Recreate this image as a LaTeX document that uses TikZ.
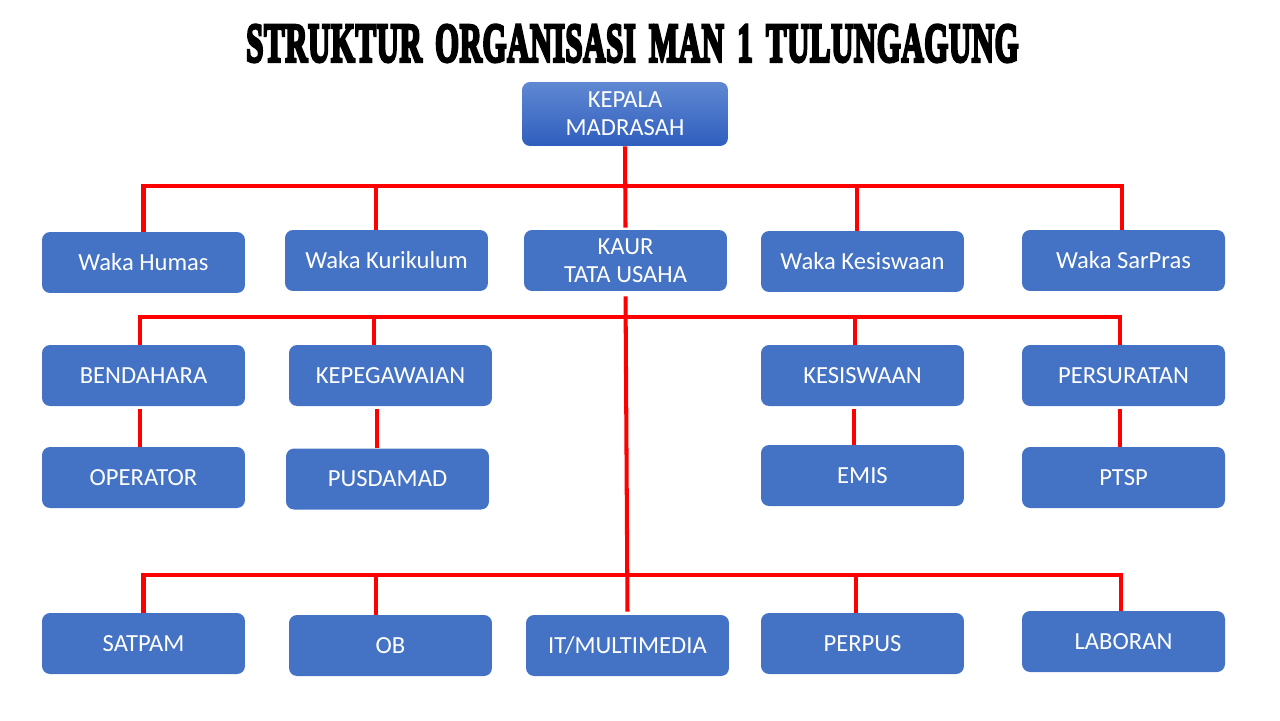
\documentclass[tikz,border=0pt]{standalone}
\usepackage{fontspec}
\setmainfont{Carlito}
\newfontfamily\titlefont[LetterSpace=2, WordSpace=1.6]{Liberation Serif}
\definecolor{boxblue}{HTML}{4472C4}
\definecolor{headtop}{HTML}{6088D2}
\definecolor{headbot}{HTML}{2F5EBE}
\newcommand{\heavytext}[1]{\special{pdf:literal direct 2 Tr 0.6 w}#1\special{pdf:literal direct 0 Tr}}
\begin{document}
\begin{tikzpicture}[x=0.02cm, y=-0.02cm,
  unit/.style={rectangle, rounded corners=0.16cm, fill=boxblue, text=white,
    minimum width=4.06cm, minimum height=1.22cm, inner sep=0pt, align=center,
    font=\fontsize{14}{16}\selectfont},
  link/.style={red, line width=2.3pt}]
\useasboundingbox (0,0) rectangle (1280,720);

% Title
\node[inner sep=0pt] (title) at (632.5,43.5)
  {\resizebox{15.45cm}{0.73cm}{\titlefont\bfseries\heavytext{STRUKTUR ORGANISASI MAN 1 TULUNGAGUNG}}};

% Head
\node[unit, minimum width=4.12cm, minimum height=1.28cm, fill=none,
  top color=headtop, bottom color=headbot] (kepala) at (625,114) {KEPALA\\MADRASAH};

% Second row
\node[unit] (humas) at (143.5,262.5) {Waka Humas};
\node[unit] (kurikulum) at (386.5,260.5) {Waka Kurikulum};
\node[unit] (kaur) at (625.5,260.5) {KAUR\\TATA USAHA};
\node[unit] (wakasiswa) at (862.5,261.5) {Waka Kesiswaan};
\node[unit] (sarpras) at (1123.5,260.5) {Waka SarPras};

% Third row
\node[unit] (bendahara) at (143.5,375.5) {BENDAHARA};
\node[unit] (pegawai) at (390.5,375.5) {KEPEGAWAIAN};
\node[unit] (kesiswaan) at (862.5,375.5) {KESISWAAN};
\node[unit] (surat) at (1123.5,375.5) {PERSURATAN};

% Fourth row
\node[unit] (operator) at (143.5,477.5) {OPERATOR};
\node[unit] (pusdamad) at (387.5,479) {PUSDAMAD};
\node[unit] (emis) at (862.5,475.5) {EMIS};
\node[unit] (ptsp) at (1123.5,477.5) {PTSP};

% Bottom row
\node[unit] (satpam) at (143.5,643.5) {SATPAM};
\node[unit] (ob) at (390.5,645.5) {OB};
\node[unit] (it) at (627.5,645.5) {IT/MULTIMEDIA};
\node[unit] (perpus) at (862.5,643.5) {PERPUS};
\node[unit] (laboran) at (1123.5,641.5) {LABORAN};

% Bus lines
\coordinate (bus1) at (625,186);
\coordinate (bus2) at (623,317);
\coordinate (bus3) at (628,575);
\coordinate (drop1a) at (376,186);
\coordinate (drop1b) at (857,186);
\coordinate (drop2a) at (374,317);
\coordinate (drop2b) at (855,317);
\coordinate (drop3a) at (376,575);
\coordinate (drop3b) at (856,575);

% Connectors
\draw[link] (kepala.south) -- ([yshift=0.04cm]kaur.north);
\draw[link, shorten <=0.1cm, shorten >=0.06cm] (kaur.south) -- (it.north);
\draw[link] (humas.north) |- (bus1) -| ([xshift=-0.03cm]sarpras.north);
\draw[link] ([xshift=-0.07cm]bendahara.north) |- (bus2) -| ([xshift=-0.07cm]surat.north);
\draw[link] (satpam.north) |- (bus3) -| ([xshift=-0.05cm]laboran.north);
\draw[link] (drop1a) -- (drop1a |- kurikulum.north);
\draw[link] (drop1b) -- (drop1b |- wakasiswa.north);
\draw[link] (drop2a) -- (drop2a |- pegawai.north);
\draw[link] (drop2b) -- (drop2b |- kesiswaan.north);
\draw[link] (drop3a) -- (drop3a |- ob.north);
\draw[link] (drop3b) -- (drop3b |- perpus.north);

% Second level links
\draw[link, shorten <=0.05cm] ([xshift=-0.07cm]bendahara.south) -- ([xshift=-0.07cm]operator.north);
\draw[link, shorten <=0.05cm] ([xshift=-0.27cm]pegawai.south) -- ([xshift=-0.27cm]pegawai.south |- pusdamad.north);
\draw[link, shorten <=0.05cm] ([xshift=-0.17cm]kesiswaan.south) -- ([xshift=-0.17cm]emis.north);
\draw[link, shorten <=0.05cm] ([xshift=-0.07cm]surat.south) -- ([xshift=-0.07cm]ptsp.north);
\end{tikzpicture}
\end{document}
